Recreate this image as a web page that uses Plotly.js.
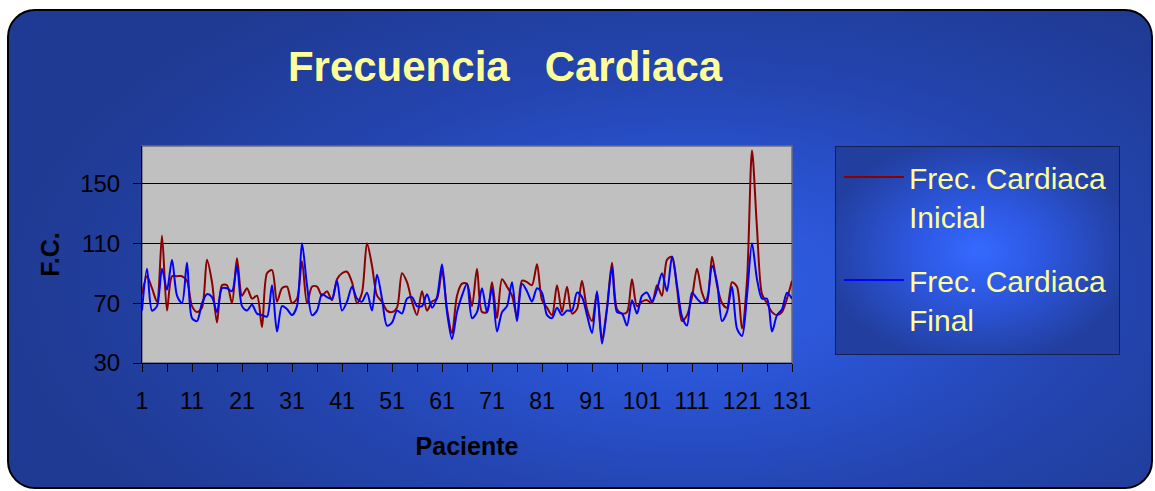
<!DOCTYPE html>
<html><head><meta charset="utf-8">
<script src="https://cdn.plot.ly/plotly-3.0.1.min.js"></script>
<style>
html,body{margin:0;padding:0;background:#fff;width:1155px;height:491px;overflow:hidden;}
#frame{position:absolute;left:7px;top:9px;width:1146px;height:480px;box-sizing:border-box;border:2px solid #000;border-radius:28px;
background:radial-gradient(ellipse 60% 75% at 60% 58%, #3062e8 0%, #2a53d2 30%, #2445b0 60%, #1f3a92 100%);}
#legbg{position:absolute;left:835px;top:146px;width:285px;height:209px;box-sizing:border-box;border:1px solid #141e50;
background:radial-gradient(ellipse 55% 55% at 50% 50%, #3569ff 0%, #2d58e2 40%, #223f9f 100%);}
#chart{position:absolute;left:0;top:0;width:1155px;height:491px;}
</style></head><body>
<div id="frame"></div><div id="legbg"></div><div id="chart"></div>
<script>
// Patient numbers (category axis)
const patients = Array.from({length:131}, (_, i) => i + 1);

// Frecuencia cardiaca inicial
const fcInicial = [
 76, 88, 80, 71,115, 65, 88, 88, 88, 85,
 68, 64, 67, 99, 84, 57, 82, 82, 70,100,
 75, 80, 73, 75, 54, 90, 92, 71, 80, 81,
 70, 73, 98, 70, 81, 81, 75, 78, 72, 86,
 90, 91, 84, 70, 77,110, 95, 75, 71, 65,
 64, 67, 90, 84, 71, 62, 78, 65, 71, 73,
 92, 66, 50, 75, 83, 83, 68, 93, 64, 64,
 84, 60, 86, 81, 75, 61, 85, 84, 82, 96,
 72, 67, 62, 82, 64, 81, 63, 66, 85, 66,
 58, 77, 46, 67, 97, 66, 63, 64, 86, 68,
 71, 72, 70, 82, 75, 99,101, 80, 58, 62,
 74, 93, 77, 70,101, 82, 70, 67, 84, 81,
 53, 85,172,120, 76, 70, 64, 62, 64, 73,
 85
];

// Frecuencia cardiaca final
const fcFinal = [
 65, 93, 65, 68, 93, 79, 99, 75, 70, 97,
 60, 58, 70, 76, 74, 64, 80, 80, 78, 95,
 68, 65, 69, 63, 62, 61, 82, 51, 68, 66,
 62, 68,110, 82, 62, 65, 76, 74, 73, 85,
 65, 71, 81, 73, 71, 77, 65, 89, 73, 55,
 57, 65, 63, 73, 74, 68, 68, 76, 67, 74,
 96, 64, 46, 64, 75, 83, 60, 64, 80, 64,
 80, 51, 64, 68, 84, 58, 83, 78, 71, 80,
 77, 62, 60, 67, 62, 65, 65, 77, 74, 62,
 50, 78, 43, 66, 94, 64, 63, 55, 72, 63,
 75, 77, 71, 79, 90, 78,101, 82, 61, 55,
 77, 73, 70, 73, 95, 84, 58, 64, 81, 53,
 48, 75,110, 86, 73, 73, 51, 62, 66, 77,
 73
];

// Axis ticks
const xTickVals = [1, 11, 21, 31, 41, 51, 61, 71, 81, 91, 101, 111, 121, 131];
const xTickLabels = ['1','11','21','31','41','51','61','71','81','91','101','111','121','131'];
const xMinorTicks = [6, 16, 26, 36, 46, 56, 66, 76, 86, 96, 106, 116, 126];
const yTickVals = [30, 70, 110, 150];

const FONT = 'Liberation Sans, Arial, Helvetica, sans-serif';

const data = [
  {x: patients, y: fcInicial, type: 'scatter', mode: 'lines',
   name: 'Frec. Cardiaca<br>Inicial', legendgroup: 'a',
   line: {color: '#8B0000', width: 2, shape: 'spline', smoothing: 0.8}},
  {x: patients, y: fcFinal, type: 'scatter', mode: 'lines',
   name: 'Frec. Cardiaca<br>Final', legendgroup: 'b',
   line: {color: '#0000FF', width: 2, shape: 'spline', smoothing: 0.8}}
];

const layout = {
  width: 1155, height: 491,
  margin: {l: 142, r: 363, t: 146, b: 128, pad: 0},
  paper_bgcolor: 'rgba(0,0,0,0)',
  plot_bgcolor: '#C0C0C0',
  font: {family: FONT, color: '#000'},
  showlegend: true,
  title: {text: '<b>Frecuencia\u00A0\u00A0\u00A0Cardiaca</b>',
          font: {family: FONT, size: 42, color: '#FFFF99'},
          x: 505/1155, xanchor: 'center', xref: 'container',
          y: 1 - 66/491, yanchor: 'middle', yref: 'container'},
  xaxis: {range: [1, 131], tickmode: 'array', tickvals: xTickVals, ticktext: xTickLabels,
          ticks: 'outside', ticklen: 8, tickcolor: '#000', tickwidth: 1, ticklabelstandoff: 9,
          minor: {tickvals: xMinorTicks, ticks: 'outside', ticklen: 8, tickcolor: '#000', tickwidth: 1, showgrid: false},
          showline: true, linecolor: '#000', linewidth: 1,
          showgrid: false, zeroline: false,
          tickfont: {family: FONT, size: 23, color: '#000'},
          title: {text: '<b>Paciente</b>', font: {family: FONT, size: 25, color: '#000'}, standoff: 24}},
  yaxis: {range: [30, 175], tickmode: 'array', tickvals: yTickVals,
          ticks: 'outside', ticklen: 8, tickcolor: '#000', tickwidth: 1, ticklabelstandoff: 8,
          showline: true, linecolor: '#000', linewidth: 1,
          showgrid: true, gridcolor: '#000', gridwidth: 1, zeroline: false,
          tickfont: {family: FONT, size: 24, color: '#000'},
          title: {text: '<b>F.C.</b>', font: {family: FONT, size: 25, color: '#000'}, standoff: 13}},
  legend: {x: (839-142)/650, xanchor: 'left', y: 1 - 5/217, yanchor: 'top',
           bgcolor: 'rgba(0,0,0,0)', borderwidth: 0,
           font: {family: FONT, size: 30, color: '#FFFF99'},
           valign: 'top', tracegroupgap: 22, itemwidth: 60},
  shapes: [{type: 'rect', xref: 'paper', yref: 'paper', x0: 0, x1: 1, y0: 0, y1: 1,
            line: {color: '#6b6b80', width: 1.5}, layer: 'below'}]
};

Plotly.newPlot('chart', data, layout, {staticPlot: true});
</script>
</body></html>
